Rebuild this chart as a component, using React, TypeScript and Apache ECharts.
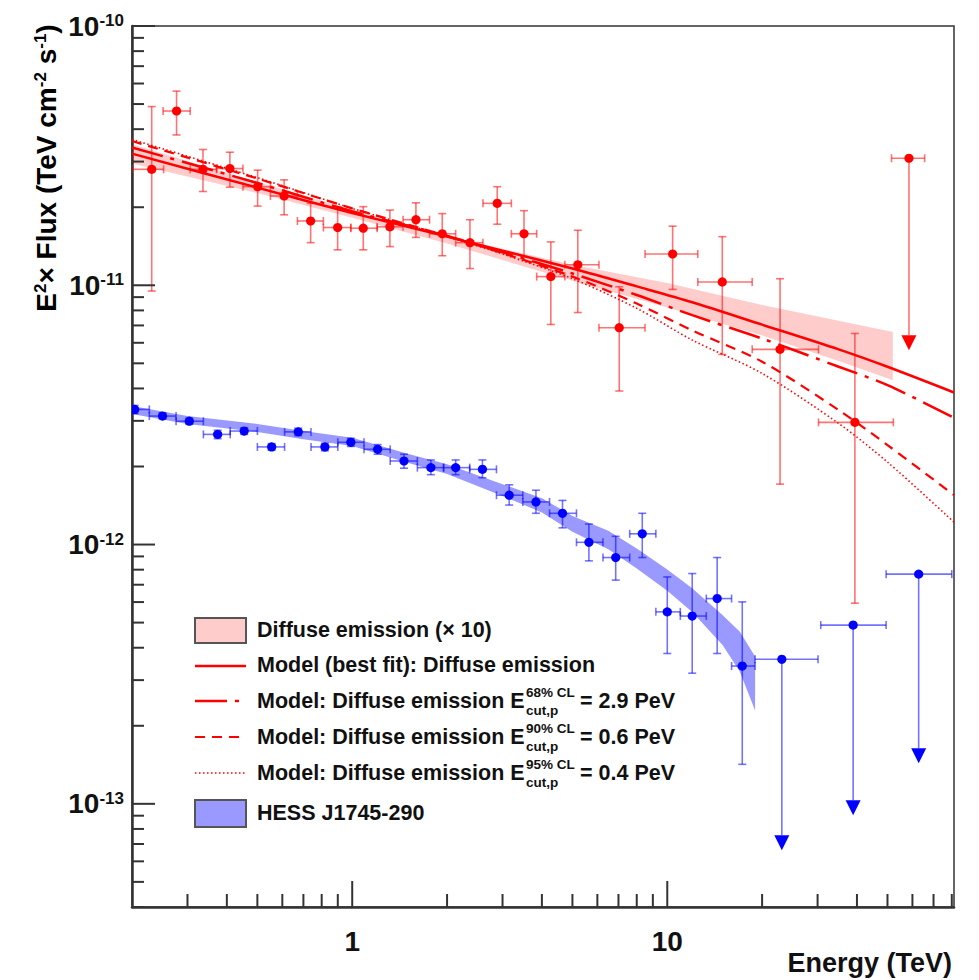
import React, { useEffect, useRef } from "react";
import * as echarts from "echarts";

const X_MIN = 0.2;
const X_MAX = 81.3;
const Y_MIN = 4e-14;
const Y_MAX = 1e-10;

// Diffuse emission (x10) data points
const diffE = [0.231, 0.277, 0.336, 0.409, 0.501, 0.608, 0.738, 0.899, 1.084, 1.317, 1.593, 1.931, 2.364, 2.886, 3.51, 4.27, 5.2, 7.04, 10.4, 14.95, 22.8, 39.4];
const diffF = [2.8e-11, 4.7e-11, 2.8e-11, 2.82e-11, 2.4e-11, 2.21e-11, 1.77e-11, 1.67e-11, 1.66e-11, 1.68e-11, 1.79e-11, 1.58e-11, 1.46e-11, 2.07e-11, 1.58e-11, 1.08e-11, 1.2e-11, 6.86e-12, 1.32e-11, 1.03e-11, 5.66e-12, 2.96e-12];
const diffElo = [0.2, 0.251, 0.306, 0.371, 0.45, 0.55, 0.67, 0.81, 0.99, 1.2, 1.45, 1.76, 2.13, 2.6, 3.2, 3.85, 4.73, 6.07, 8.5, 12.5, 18.6, 30.2];
const diffEhi = [0.252, 0.306, 0.371, 0.45, 0.55, 0.67, 0.81, 0.99, 1.2, 1.45, 1.76, 2.13, 2.6, 3.2, 3.85, 4.73, 6.07, 8.5, 12.5, 18.6, 30.2, 52.2];
const diffFlo = [9.5e-12, 3.8e-11, 2.3e-11, 2.39e-11, 2.02e-11, 1.87e-11, 1.46e-11, 1.37e-11, 1.37e-11, 1.41e-11, 1.53e-11, 1.3e-11, 1.16e-11, 1.72e-11, 1.29e-11, 7.06e-12, 7.85e-12, 3.91e-12, 9.64e-12, 5.41e-12, 1.71e-12, 5.94e-13];
const diffFhi = [4.89e-11, 5.61e-11, 3.34e-11, 3.26e-11, 2.78e-11, 2.55e-11, 2.07e-11, 2.01e-11, 2.01e-11, 1.95e-11, 2.08e-11, 1.89e-11, 1.79e-11, 2.4e-11, 1.94e-11, 1.47e-11, 1.63e-11, 9.87e-12, 1.69e-11, 1.54e-11, 1.06e-11, 6.52e-12];

// Diffuse emission upper limit
const diffUlE = [58.5];
const diffUlF = [3.09e-11];
const diffUlElo = [51.5];
const diffUlEhi = [65.6];
const diffUlTip = [5.62e-12];

// HESS J1745-290 data points
const hessE = [0.204, 0.25, 0.304, 0.374, 0.454, 0.555, 0.674, 0.819, 0.99, 1.204, 1.46, 1.777, 2.13, 2.59, 3.15, 3.83, 4.65, 5.64, 6.86, 8.33, 10.0, 12.0, 14.4, 17.3];
const hessF = [3.32e-12, 3.13e-12, 2.99e-12, 2.66e-12, 2.74e-12, 2.38e-12, 2.72e-12, 2.38e-12, 2.48e-12, 2.33e-12, 2.1e-12, 1.98e-12, 1.98e-12, 1.95e-12, 1.55e-12, 1.46e-12, 1.32e-12, 1.02e-12, 8.91e-13, 1.1e-12, 5.5e-13, 5.3e-13, 6.19e-13, 3.4e-13];
const hessElo = [0.2, 0.227, 0.276, 0.337, 0.41, 0.5, 0.61, 0.74, 0.9, 1.09, 1.32, 1.61, 1.95, 2.36, 2.87, 3.48, 4.23, 5.15, 6.25, 7.6, 9.2, 11.0, 13.3, 16.0];
const hessEhi = [0.227, 0.276, 0.337, 0.41, 0.5, 0.61, 0.74, 0.9, 1.09, 1.32, 1.61, 1.95, 2.36, 2.87, 3.48, 4.23, 5.15, 6.25, 7.6, 9.2, 11.0, 13.3, 16.0, 19.0];
const hessFlo = [3.2e-12, 3.05e-12, 2.91e-12, 2.56e-12, 2.66e-12, 2.31e-12, 2.63e-12, 2.3e-12, 2.39e-12, 2.23e-12, 1.97e-12, 1.86e-12, 1.86e-12, 1.81e-12, 1.42e-12, 1.32e-12, 1.16e-12, 8.65e-13, 7.29e-13, 8.91e-13, 3.8e-13, 3.19e-13, 3.8e-13, 1.42e-13];
const hessFhi = [3.44e-12, 3.22e-12, 3.07e-12, 2.76e-12, 2.82e-12, 2.45e-12, 2.81e-12, 2.46e-12, 2.57e-12, 2.43e-12, 2.23e-12, 2.12e-12, 2.12e-12, 2.12e-12, 1.7e-12, 1.62e-12, 1.48e-12, 1.2e-12, 1.076e-12, 1.32e-12, 7.5e-13, 7.73e-13, 8.91e-13, 6.01e-13];

// HESS upper limits
const hessUlE = [23.1, 38.9, 62.8];
const hessUlF = [3.61e-13, 4.89e-13, 7.69e-13];
const hessUlElo = [19.0, 30.7, 49.5];
const hessUlEhi = [30.1, 49.5, 80.0];
const hessUlTip = [6.62e-14, 9.04e-14, 1.435e-13];

// Diffuse emission fit band
const diffBandE = [0.2, 0.5, 1, 2, 5, 10, 20, 35, 52];
const diffBandHi = [3.5e-11, 2.5e-11, 1.95e-11, 1.55e-11, 1.2e-11, 1.02e-11, 8.4e-12, 7.3e-12, 6.6e-12];
const diffBandLo = [2.95e-11, 2.27e-11, 1.82e-11, 1.45e-11, 1.04e-11, 8.2e-12, 6.4e-12, 5.1e-12, 4.3e-12];

// HESS J1745-290 fit band
const hessBandE = [0.2, 0.3, 0.5, 0.7, 1, 1.5, 2, 3, 4, 5, 6.5, 8, 10, 12, 15, 17, 19];
const hessBandHi = [3.42e-12, 3.13e-12, 2.92e-12, 2.74e-12, 2.58e-12, 2.24e-12, 2.04e-12, 1.71e-12, 1.51e-12, 1.29e-12, 1.13e-12, 9.65e-13, 8.02e-13, 6.78e-13, 5.34e-13, 4.61e-13, 3.7e-13];
const hessBandLo = [3.19e-12, 2.92e-12, 2.72e-12, 2.55e-12, 2.4e-12, 2.07e-12, 1.87e-12, 1.54e-12, 1.33e-12, 1.12e-12, 9.59e-13, 8.08e-13, 6.63e-13, 5.49e-13, 4.09e-13, 3.23e-13, 2.29e-13];

// Model curves
const modelE = [0.2, 0.5, 1, 2, 3, 5, 8, 12, 20, 35, 50, 81.3];
const modelBest = [3.22e-11, 2.38e-11, 1.9e-11, 1.54e-11, 1.36e-11, 1.16e-11, 9.9e-12, 8.6e-12, 7.05e-12, 5.66e-12, 4.85e-12, 3.86e-12];
const model68 = [3.4e-11, 2.48e-11, 1.93e-11, 1.55e-11, 1.34e-11, 1.11e-11, 9.17e-12, 7.67e-12, 6.23e-12, 4.85e-12, 4.12e-12, 3.08e-12];
const model90 = [3.6e-11, 2.58e-11, 1.98e-11, 1.55e-11, 1.33e-11, 1.08e-11, 8.5e-12, 6.7e-12, 5.07e-12, 3.3e-12, 2.42e-12, 1.55e-12];
const model95 = [3.65e-11, 2.6e-11, 1.98e-11, 1.54e-11, 1.32e-11, 1.06e-11, 8.15e-12, 6.15e-12, 4.57e-12, 2.93e-12, 2.08e-12, 1.22e-12];

// Axis ticks
const xMajorTicks = [1, 10];
const xMinorTicks = [0.3, 0.4, 0.5, 0.6, 0.7, 0.8, 0.9, 2, 3, 4, 5, 6, 7, 8, 9, 20, 30, 40, 50, 60, 70, 80];
const yMajorTicks = [1e-13, 1e-12, 1e-11, 1e-10];
const yMinorMantissa = [2, 3, 4, 5, 6, 7, 8, 9];
const yMinorDecades = [1e-14, 1e-13, 1e-12, 1e-11];

const FONT = "'Liberation Sans', Arial, Helvetica, sans-serif";
const RED = "#ff0000";
const BLUE = "#0000ff";

function errorItem(color: string, barColor: string) {
  return (params: any, api: any) => {
    const e = api.value(0), f = api.value(1);
    const c = api.coord([e, f]);
    const l = api.coord([api.value(2), f]);
    const r = api.coord([api.value(3), f]);
    const b = api.coord([e, api.value(4)]);
    const t = api.coord([e, api.value(5)]);
    const cap = 4;
    const ls = { stroke: barColor, lineWidth: 1.6 };
    return {
      type: "group",
      children: [
        { type: "line", shape: { x1: l[0], y1: c[1], x2: r[0], y2: c[1] }, style: ls },
        { type: "line", shape: { x1: l[0], y1: c[1] - cap, x2: l[0], y2: c[1] + cap }, style: ls },
        { type: "line", shape: { x1: r[0], y1: c[1] - cap, x2: r[0], y2: c[1] + cap }, style: ls },
        { type: "line", shape: { x1: c[0], y1: t[1], x2: c[0], y2: b[1] }, style: ls },
        { type: "line", shape: { x1: c[0] - cap, y1: t[1], x2: c[0] + cap, y2: t[1] }, style: ls },
        { type: "line", shape: { x1: c[0] - cap, y1: b[1], x2: c[0] + cap, y2: b[1] }, style: ls },
        { type: "circle", shape: { cx: c[0], cy: c[1], r: 4.6 }, style: { fill: color } },
      ],
    };
  };
}

function ulItem(color: string, barColor: string) {
  return (params: any, api: any) => {
    const e = api.value(0), f = api.value(1);
    const c = api.coord([e, f]);
    const l = api.coord([api.value(2), f]);
    const r = api.coord([api.value(3), f]);
    const tip = api.coord([e, api.value(4)]);
    const cap = 4;
    const ah = 15, aw = 7.5;
    const ls = { stroke: barColor, lineWidth: 1.6 };
    return {
      type: "group",
      children: [
        { type: "line", shape: { x1: l[0], y1: c[1], x2: r[0], y2: c[1] }, style: ls },
        { type: "line", shape: { x1: l[0], y1: c[1] - cap, x2: l[0], y2: c[1] + cap }, style: ls },
        { type: "line", shape: { x1: r[0], y1: c[1] - cap, x2: r[0], y2: c[1] + cap }, style: ls },
        { type: "line", shape: { x1: c[0], y1: c[1], x2: c[0], y2: tip[1] - ah }, style: ls },
        {
          type: "polygon",
          shape: { points: [[c[0] - aw, tip[1] - ah], [c[0] + aw, tip[1] - ah], [c[0], tip[1]]] },
          style: { fill: color },
        },
        { type: "circle", shape: { cx: c[0], cy: c[1], r: 4.6 }, style: { fill: color } },
      ],
    };
  };
}

function bandItem(E: number[], hi: number[], lo: number[], fill: string) {
  return (params: any, api: any) => {
    if (params.dataIndex !== 0) return null;
    const pts: number[][] = [];
    for (let i = 0; i < E.length; i++) pts.push(api.coord([E[i], hi[i]]));
    for (let i = E.length - 1; i >= 0; i--) pts.push(api.coord([E[i], lo[i]]));
    return { type: "polygon", shape: { points: pts }, style: { fill } };
  };
}

function tickItem(params: any, api: any) {
  const kind = api.value(2);
  const p = api.coord([api.value(0), api.value(1)]);
  const st = { stroke: "#333", lineWidth: 2 };
  if (kind === 0 || kind === 1) {
    const len = kind === 1 ? 26 : 13;
    return { type: "line", shape: { x1: p[0], y1: p[1], x2: p[0], y2: p[1] - len }, style: st };
  }
  const len = kind === 3 ? 23 : 12;
  return { type: "line", shape: { x1: p[0], y1: p[1], x2: p[0] + len, y2: p[1] }, style: st };
}

const tickData: number[][] = [];
xMinorTicks.forEach((v) => tickData.push([v, Y_MIN, 0]));
xMajorTicks.forEach((v) => tickData.push([v, Y_MIN, 1]));
yMinorDecades.forEach((d) =>
  yMinorMantissa.forEach((m) => {
    const v = m * d;
    if (v >= Y_MIN * 0.999 && v < Y_MAX) tickData.push([X_MIN, v, 2]);
  })
);
yMajorTicks.forEach((v) => tickData.push([X_MIN, v, 3]));

function legendText(x: number, y: number, text: string, size = 21.5) {
  return {
    type: "text",
    x,
    y,
    z: 100,
    style: {
      text,
      fontFamily: FONT,
      fontWeight: "bold",
      fontSize: size,
      fill: "#111",
      align: "left",
      verticalAlign: "middle",
      textAlign: "left",
      textVerticalAlign: "middle",
    },
  };
}

function legendLine(y: number, dash: number[] | null, width: number) {
  return {
    type: "line",
    z: 100,
    shape: { x1: 195, y1: y, x2: 246, y2: y },
    style: { stroke: RED, lineWidth: width, lineDash: dash || undefined },
  };
}

function cutLabel(y: number, cl: string, value: string) {
  return [
    legendText(257, y, "Model: Diffuse emission E"),
    legendText(526, y - 9, cl, 13.5),
    legendText(526, y + 9, "cut,p", 13.5),
    legendText(580, y, "= " + value),
  ];
}

const DASH68 = [32, 8, 4, 8];
const DASH90 = [10, 7];
const DASH95 = [1.5, 2.5];

export default function App() {
  const ref = useRef<HTMLDivElement>(null);
  useEffect(() => {
    if (!ref.current) return;
    const chart = echarts.init(ref.current, null, { renderer: "svg" });
    const option: any = {
      animation: false,
      backgroundColor: "#ffffff",
      grid: {
        left: 132,
        top: 26,
        right: 25,
        bottom: 73,
        show: true,
        borderColor: "#333",
        borderWidth: 1.5,
        backgroundColor: "transparent",
      },
      xAxis: {
        type: "log",
        logBase: 10,
        min: X_MIN,
        max: X_MAX,
        axisLine: { show: true, onZero: false, lineStyle: { color: "#333", width: 2.5 } },
        axisTick: { show: false },
        splitLine: { show: false },
        axisLabel: {
          showMinLabel: false,
          showMaxLabel: false,
          margin: 20,
          fontFamily: FONT,
          fontWeight: "bold",
          fontSize: 28,
          color: "#111",
          formatter: (v: number) => {
            const l = Math.log10(v);
            return Math.abs(l - Math.round(l)) < 1e-6 ? String(Math.round(v)) : "";
          },
        },
      },
      yAxis: {
        type: "log",
        logBase: 10,
        min: Y_MIN,
        max: Y_MAX,
        axisLine: { show: true, onZero: false, lineStyle: { color: "#333", width: 2.5 } },
        axisTick: { show: false },
        splitLine: { show: false },
        axisLabel: {
          showMinLabel: false,
          showMaxLabel: true,
          margin: 8,
          formatter: (v: number) => {
            const l = Math.log10(v);
            if (Math.abs(l - Math.round(l)) > 1e-6) return "";
            return "{b|10}{s|" + Math.round(l) + "}";
          },
          rich: {
            b: { fontFamily: FONT, fontWeight: "bold", fontSize: 28, color: "#111" },
            s: { fontFamily: FONT, fontWeight: "bold", fontSize: 17, color: "#111", verticalAlign: "top" },
          },
        },
      },
      series: [
        {
          type: "custom",
          name: "Diffuse band",
          silent: true,
          clip: true,
          renderItem: bandItem(diffBandE, diffBandHi, diffBandLo, "rgba(255,0,0,0.2)"),
          data: diffBandE.map((e, i) => [e, diffBandHi[i], diffBandLo[i]]),
          z: 1,
        },
        {
          type: "custom",
          name: "HESS band",
          silent: true,
          clip: true,
          renderItem: bandItem(hessBandE, hessBandHi, hessBandLo, "rgba(0,0,255,0.4)"),
          data: hessBandE.map((e, i) => [e, hessBandHi[i], hessBandLo[i]]),
          z: 1,
        },
        {
          type: "line",
          name: "Model (best fit)",
          showSymbol: false,
          smooth: 0.3,
          data: modelE.map((e, i) => [e, modelBest[i]]),
          lineStyle: { color: RED, width: 2.5 },
          z: 2,
        },
        {
          type: "line",
          name: "Model 68%",
          showSymbol: false,
          smooth: 0.3,
          data: modelE.map((e, i) => [e, model68[i]]),
          lineStyle: { color: RED, width: 2.5, type: DASH68 },
          z: 2,
        },
        {
          type: "line",
          name: "Model 90%",
          showSymbol: false,
          smooth: 0.3,
          data: modelE.map((e, i) => [e, model90[i]]),
          lineStyle: { color: RED, width: 2.2, type: DASH90 },
          z: 2,
        },
        {
          type: "line",
          name: "Model 95%",
          showSymbol: false,
          smooth: 0.3,
          data: modelE.map((e, i) => [e, model95[i]]),
          lineStyle: { color: RED, width: 1.6, type: DASH95 },
          z: 2,
        },
        {
          type: "custom",
          name: "Diffuse emission",
          clip: true,
          renderItem: errorItem(RED, "rgba(255,0,0,0.55)"),
          data: diffE.map((e, i) => [e, diffF[i], diffElo[i], diffEhi[i], diffFlo[i], diffFhi[i]]),
          z: 3,
        },
        {
          type: "custom",
          name: "Diffuse UL",
          clip: true,
          renderItem: ulItem(RED, "rgba(255,0,0,0.55)"),
          data: diffUlE.map((e, i) => [e, diffUlF[i], diffUlElo[i], diffUlEhi[i], diffUlTip[i]]),
          z: 3,
        },
        {
          type: "custom",
          name: "HESS J1745-290",
          clip: true,
          renderItem: errorItem(BLUE, "rgba(0,0,255,0.55)"),
          data: hessE.map((e, i) => [e, hessF[i], hessElo[i], hessEhi[i], hessFlo[i], hessFhi[i]]),
          z: 3,
        },
        {
          type: "custom",
          name: "HESS UL",
          clip: true,
          renderItem: ulItem(BLUE, "rgba(0,0,255,0.55)"),
          data: hessUlE.map((e, i) => [e, hessUlF[i], hessUlElo[i], hessUlEhi[i], hessUlTip[i]]),
          z: 3,
        },
        {
          type: "custom",
          name: "ticks",
          silent: true,
          clip: false,
          renderItem: tickItem,
          data: tickData,
          z: 5,
        },
      ],
      graphic: [
        {
          type: "text",
          x: 46,
          y: 168,
          rotation: Math.PI / 2,
          z: 100,
          style: {
            text: "{a|E}{s|2}{a|× Flux (TeV cm}{s|-2}{a| s}{s|-1}{a|)}",
            align: "center",
            verticalAlign: "middle",
            textAlign: "center",
            textVerticalAlign: "middle",
            rich: {
              a: { fontFamily: FONT, fontWeight: "bold", fontSize: 28, color: "#111" },
              s: { fontFamily: FONT, fontWeight: "bold", fontSize: 17, color: "#111", verticalAlign: "top" },
            },
          },
        },
        {
          type: "text",
          x: 952,
          y: 963,
          z: 100,
          style: {
            text: "Energy (TeV)",
            fontFamily: FONT,
            fontWeight: "bold",
            fontSize: 27,
            fill: "#111",
            align: "right",
            verticalAlign: "middle",
            textAlign: "right",
            textVerticalAlign: "middle",
          },
        },
        {
          type: "rect",
          z: 100,
          shape: { x: 195, y: 618, width: 51, height: 25 },
          style: { fill: "#ffcccc", stroke: "#555", lineWidth: 2 },
        },
        legendText(257, 630, "Diffuse emission (× 10)"),
        legendLine(666, null, 2.5),
        legendText(257, 665, "Model (best fit): Diffuse emission"),
        legendLine(701, DASH68, 2.5),
        ...cutLabel(701, "68% CL", "2.9 PeV"),
        legendLine(737, DASH90, 2.2),
        ...cutLabel(737, "90% CL", "0.6 PeV"),
        legendLine(773, DASH95, 1.6),
        ...cutLabel(773, "95% CL", "0.4 PeV"),
        {
          type: "rect",
          z: 100,
          shape: { x: 195, y: 800, width: 51, height: 27 },
          style: { fill: "#9999ff", stroke: "#555", lineWidth: 2 },
        },
        legendText(257, 813, "HESS J1745-290"),
      ],
    };
    chart.setOption(option);
    return () => chart.dispose();
  }, []);
  return (
    <div
      ref={ref}
      style={{ position: "absolute", left: 0, top: 0, width: 979, height: 980, background: "#fff" }}
    />
  );
}
